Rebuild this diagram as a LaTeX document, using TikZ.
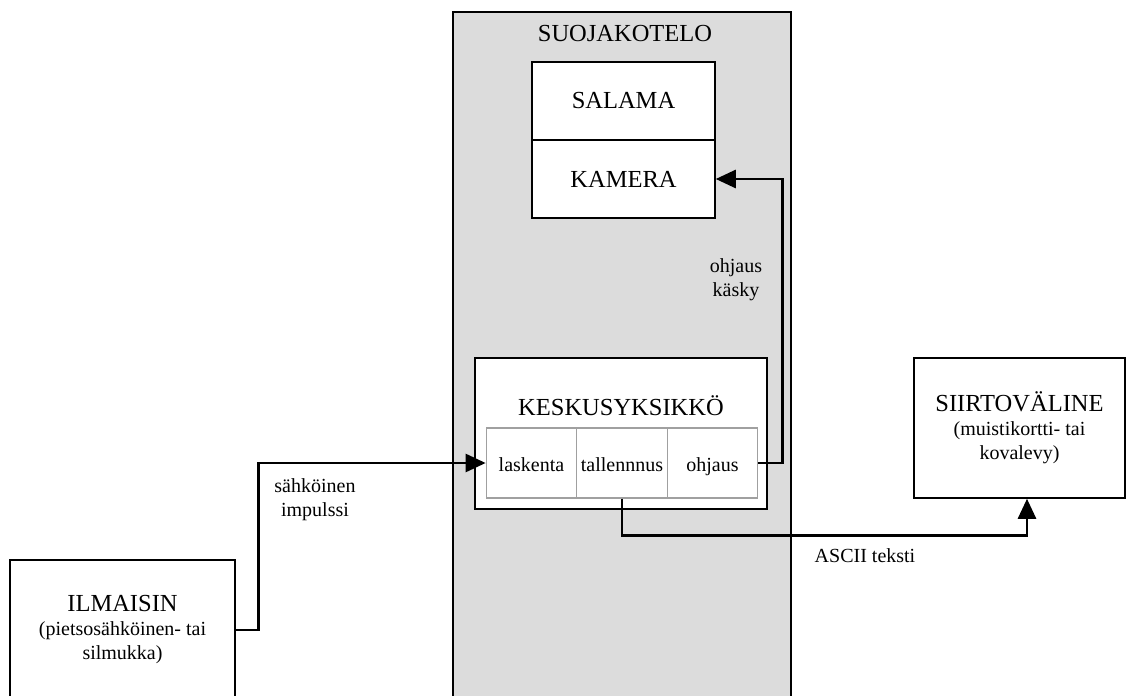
\documentclass[tikz,border=0pt]{standalone}
\usepackage{fontspec}
\setmainfont{Liberation Serif}
\usetikzlibrary{arrows.meta}
\newcommand{\isoteksti}{\fontsize{24.5}{28}\selectfont}
\newcommand{\pieniteksti}{\fontsize{20}{24}\selectfont}
\definecolor{kotelonharmaa}{HTML}{DCDCDC}
\definecolor{solunharmaa}{HTML}{A0A0A0}
\begin{document}
\begin{tikzpicture}[x=1pt,y=-1pt,
	box/.style={draw,line width=1.5pt,fill=white,inner sep=0pt,align=center,font=\isoteksti},
	solu/.style={draw=solunharmaa,line width=1.2pt,fill=white,inner sep=0pt,minimum width=90.5pt,minimum height=70pt,text height=17.4pt,text depth=0pt,font=\pieniteksti},
	lbl/.style={align=center,font=\pieniteksti,inner sep=0pt},
	arr/.style={line width=2.6pt,-{Triangle[length=20pt,width=18pt]}}]
\useasboundingbox (0,0) rectangle (1128,696);
% case
\node[draw,line width=2pt,fill=kotelonharmaa,inner sep=0pt,minimum width=338pt,minimum height=720pt,anchor=north west] (kotelo) at (452,11) {};
\node[font=\isoteksti,inner sep=0pt,anchor=base] (koteloteksti) at (625,41) {SUOJAKOTELO};
% camera and flash
\node[box,minimum width=183pt,minimum height=78pt] (salama) at (623.5,101) {SALAMA};
\node[box,minimum width=183pt,minimum height=78pt] (kamera) at (623.5,179) {KAMERA};
% central unit
\node[box,minimum width=292pt,minimum height=151pt] (keskus) at (621,433.5) {};
\node[font=\isoteksti,inner sep=0pt,anchor=base] (keskusteksti) at (621,415) {KESKUSYKSIKKÖ};
\node[solu] (laskenta) at (531.5,463) {laskenta};
\node[solu] (tallennnus) at (622,463) {tallennnus};
\node[solu] (ohjaus) at (712.5,463) {ohjaus};
% outside
\node[box,minimum width=225pt,minimum height=140pt,font=\pieniteksti] (ilmaisin) at (122.5,630)
	{{\isoteksti ILMAISIN}\\(pietsosähköinen- tai\\silmukka)};
\node[box,minimum width=211pt,minimum height=140pt,font=\pieniteksti] (siirto) at (1019.5,428)
	{{\isoteksti SIIRTOVÄLINE}\\(muistikortti- tai\\kovalevy)};
% connectors
\draw[arr] (ilmaisin.east) -- ++(23,0) |- (laskenta.west);
\draw[arr] (ohjaus.east) -- ++(24,0) |- (kamera.east);
\draw[arr] (tallennnus.south) -- ++(0,37) -| ([xshift=7.5pt]siirto.south);
% labels
\node[lbl] (kaskyteksti) at (736,280) {ohjaus\\käsky};
\node[lbl] (impulssiteksti) at (315,500) {sähköinen\\impulssi};
\node[lbl] (asciiteksti) at (865,556) {ASCII teksti};
\end{tikzpicture}
\end{document}
